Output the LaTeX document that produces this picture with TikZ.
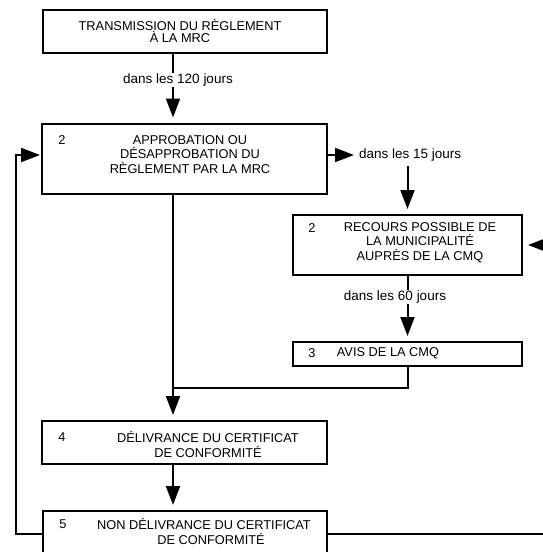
\documentclass[tikz,border=0pt]{standalone}
\usepackage{fontspec}
\setmainfont{Liberation Sans}
\usetikzlibrary{arrows.meta}
\begin{document}
\begin{tikzpicture}[x=1pt,y=-1pt,
  box/.style={draw, line width=2pt, inner sep=0pt},
  txt/.style={align=center, font=\fontsize{12.8}{14.5}\selectfont, inner sep=0pt},
  tight/.style={font=\fontsize{12.8}{12}\selectfont},
  lbl/.style={fill=white, font=\fontsize{13.5}{14}\selectfont, inner sep=1pt},
  wire/.style={line width=2pt},
  arr/.style={wire, -{Triangle[length=19pt,width=14pt]}, shorten >=5pt},
]
\useasboundingbox (0,0) rectangle (543,552);
\clip (0,0) rectangle (543,552);

% boxes
\node[box, minimum width=284pt, minimum height=43pt] (b1) at (185,31.5) {};
\node[box, minimum width=285pt, minimum height=70pt] (b2) at (184.5,158.5) {};
\node[box, minimum width=229pt, minimum height=60pt] (b3) at (407.5,245) {};
\node[box, minimum width=229pt, minimum height=24pt] (b6) at (407.5,354) {};
\node[box, minimum width=285pt, minimum height=43pt] (b4) at (184.5,442.5) {};
\node[box, minimum width=284pt, minimum height=54pt] (b5) at (185,538) {};

% box texts
\node[txt, tight] (t1) at (180,31) {TRANSMISSION DU RÈGLEMENT\\À LA MRC};
\node[txt] (n2) at (62,140) {2};
\node[txt] (t2) at (190,154.5) {APPROBATION OU\\DÉSAPPROBATION DU\\RÈGLEMENT PAR LA MRC};
\node[txt] (n3) at (312,228) {2};
\node[txt] (t3) at (420,242.5) {RECOURS POSSIBLE DE\\LA MUNICIPALITÉ\\AUPRÈS DE LA CMQ};
\node[txt] (n6) at (312,353) {3};
\node[txt] (t6) at (388,353) {AVIS DE LA CMQ};
\node[txt] (n4) at (62,437) {4};
\node[txt] (t4) at (208,444.5) {DÉLIVRANCE DU CERTIFICAT\\DE CONFORMITÉ};
\node[txt] (n5) at (63,524) {5};
\node[txt] (t5) at (204,531.5) {NON DÉLIVRANCE DU CERTIFICAT\\\hspace*{14pt}DE CONFORMITÉ};

% reference points for the connectors
\coordinate (col) at (173,0);
\coordinate (m) at (173,388);
\coordinate (fb) at (0,534);

% main flow
\draw[arr] (b1.south -| col) -- (b2.north -| col);
\node[lbl] (l120) at (178,80) {dans les 120 jours};

\node[lbl, anchor=west] (l15) at (358,155) {dans les 15 jours};
\draw[arr, shorten >=4pt] (b2.east |- l15.west) -- (l15.west);
\draw[arr] ([yshift=-4pt]l15.south -| b3.north) -- (b3.north);

\draw[arr] (b3.south) -- (b6.north);
\node[lbl] (l60) at (395,297) {dans les 60 jours};

\draw[wire] (b2.south -| col) -- (m);
\draw[wire] (b6.south) |- (m);
\draw[arr] (m) -- (b4.north -| col);
\draw[arr] (b4.south -| col) -- (b5.north -| col);

% return paths from the last box
\draw[arr, shorten >=1pt] (b5.west |- fb) -- ++(-26,0) |- (b2.west |- l15.west);
\draw[arr] (b5.east |- fb) -- ++(240,0) |- (b3.east);
\end{tikzpicture}
\end{document}
